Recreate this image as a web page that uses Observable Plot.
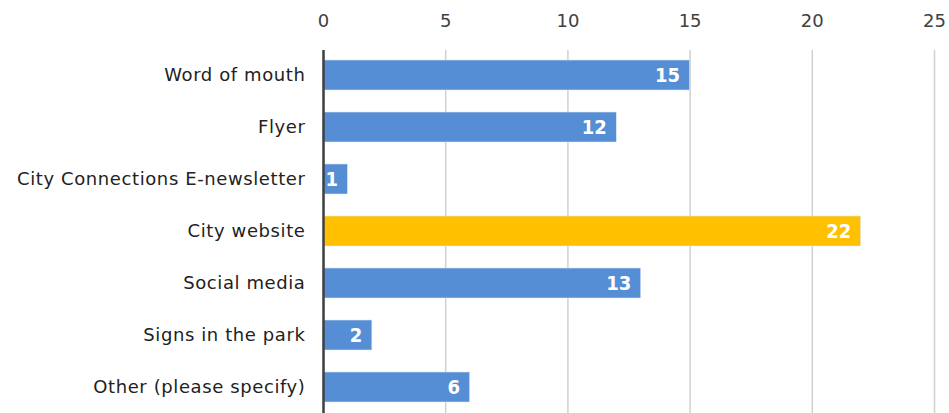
<!DOCTYPE html>
<html><head><meta charset="utf-8">
<script src="https://cdn.jsdelivr.net/npm/d3@7"></script>
<script src="https://cdn.jsdelivr.net/npm/@observablehq/plot@0.6"></script>
<style>body{margin:0;background:#fff;overflow:hidden}
.ylab text{letter-spacing:0.6px}</style>
</head><body><div id="chart"></div>
<script>
const categories = ["Word of mouth","Flyer","City Connections E-newsletter","City website","Social media","Signs in the park","Other (please specify)"];
const values = [15,12,1,22,13,2,6];
const highlight = "City website";
const xTicks = [0,5,10,15,20,25];
const data = categories.map((c,i)=>({category:c,value:values[i]}));
const font = "'DejaVu Sans', sans-serif";
const chart = Plot.plot({
  width:949, height:413,
  marginTop:50, marginBottom:0, marginLeft:323, marginRight:15,
  style:{fontFamily:font, fontSize:"18px", color:"#404040", background:"#fff"},
  x:{domain:[0,25], axis:null},
  y:{domain:categories, paddingInner:0.42, paddingOuter:0.2, axis:null},
  marks:[
    Plot.gridX(xTicks,{stroke:"#d0d0d0", strokeWidth:1.5, strokeOpacity:1}),
    Plot.axisX(xTicks,{anchor:"top", tickSize:0, tickPadding:24, fontSize:18, fill:"#404040", label:null}),
    Plot.axisY({anchor:"left", tickSize:0, tickPadding:18, fontSize:18, fill:"#222", label:null, className:"ylab"}),
    Plot.barX(data,{y:"category", x:"value", fill:d=>d.category===highlight?"#ffc000":"#558ed5", stroke:"#dde8f5", strokeWidth:0.6}),
    Plot.ruleX([0],{stroke:"#404040", strokeWidth:2.5}),
    Plot.text(data,{y:"category", x:"value", text:d=>String(d.value), textAnchor:"end", dx:-10, fill:"#fff", fontWeight:"bold", fontSize:20, fontFamily:"'DejaVu Sans Condensed', 'DejaVu Sans', sans-serif"})
  ]
});
document.getElementById("chart").append(chart);
</script></body></html>
